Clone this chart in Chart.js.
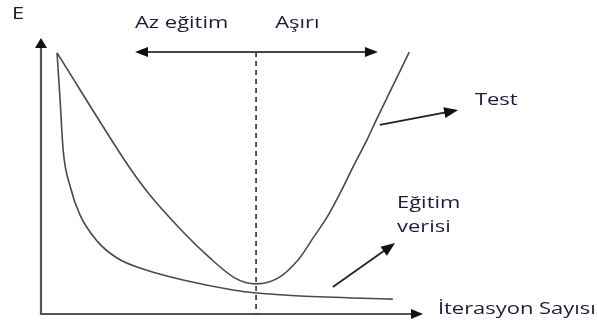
<!DOCTYPE html>
<html>
<head>
<meta charset="utf-8">
<script src="https://cdn.jsdelivr.net/npm/chart.js@4"></script>
<style>
  html, body { margin: 0; padding: 0; background: #fff; }
  #wrap { width: 597px; height: 320px; }
</style>
</head>
<body>
<div id="wrap"><canvas id="grafico"></canvas></div>
<script>
// egri noktalari (x: iterasyon, y: hata)
const testX = [4.2, 21.5, 28.5, 37.2, 44.2, 50.8, 56.3, 62.0, 67.3, 71.2, 74.9, 78.3, 81.7, 85.3, 88.0, 96.4];
const testY = [94.6, 56.5, 43.1, 29.7, 20.3, 13.0, 10.9, 13.0, 19.6, 27.5, 35.1, 43.8, 53.3, 63.0, 71.0, 94.9];
const egitimX = [4.2, 5.0, 5.8, 7.6, 10.2, 14.7, 19.9, 26.7, 37.2, 50.3, 56.5, 67.8, 92.1];
const egitimY = [94.6, 77.5, 59.4, 46.4, 35.9, 26.4, 20.3, 16.3, 12.3, 8.7, 7.6, 6.5, 5.4];
const optimumX = 56.3;

// etiketler ve oklar (veri koordinatlari)
const etiketler = [
  { text: 'E', x: -7.6, y: 108.7 },
  { text: 'Az eğitim', x: 24.6, y: 105.4 },
  { text: 'Aşırı', x: 61.3, y: 105.4 },
  { text: 'Test', x: 113.6, y: 77.5 },
  { text: 'Eğitim', x: 93.2, y: 40.2 },
  { text: 'verisi', x: 93.2, y: 31.5 },
  { text: 'İterasyon Sayısı', x: 103.9, y: 1.6 }
];
const oklar = [
  { from: [88.7, 68.5], to: [109.2, 73.9] },
  { from: [76.4, 9.8], to: [92.7, 25.7] }
];

const cizimler = {
  id: 'cizimler',
  afterDatasetsDraw(chart) {
    const { ctx, scales } = chart;
    const px = v => scales.x.getPixelForValue(v);
    const py = v => scales.y.getPixelForValue(v);

    const okBasi = (x1, y1, x2, y2, boy, en) => {
      const a = Math.atan2(y2 - y1, x2 - x1);
      ctx.beginPath();
      ctx.moveTo(x2, y2);
      ctx.lineTo(x2 - boy * Math.cos(a) + en * Math.sin(a), y2 - boy * Math.sin(a) - en * Math.cos(a));
      ctx.lineTo(x2 - boy * Math.cos(a) - en * Math.sin(a), y2 - boy * Math.sin(a) + en * Math.cos(a));
      ctx.closePath();
      ctx.fill();
    };

    ctx.save();
    // eksenler
    ctx.strokeStyle = '#555';
    ctx.fillStyle = '#111';
    ctx.lineWidth = 2.2;
    ctx.beginPath();
    ctx.moveTo(px(0), py(100) + 8);
    ctx.lineTo(px(0), py(0));
    ctx.lineTo(px(100) - 8, py(0));
    ctx.stroke();
    okBasi(px(0), py(50), px(0), py(100), 10, 6);
    okBasi(px(50), py(0), px(100), py(0), 12, 5);

    // optimum kesikli cizgi
    ctx.lineWidth = 1.5;
    ctx.strokeStyle = '#222';
    ctx.setLineDash([5, 4]);
    ctx.beginPath();
    ctx.moveTo(px(optimumX), py(94.9));
    ctx.lineTo(px(optimumX), py(0));
    ctx.stroke();
    ctx.setLineDash([]);

    // cift yonlu ok
    ctx.strokeStyle = '#444';
    ctx.lineWidth = 2;
    ctx.beginPath();
    ctx.moveTo(px(24.6) + 10, py(94.9));
    ctx.lineTo(px(88.2) - 10, py(94.9));
    ctx.stroke();
    okBasi(px(50), py(94.9), px(24.6), py(94.9), 13, 5);
    okBasi(px(50), py(94.9), px(88.2), py(94.9), 13, 5);

    // isaret oklari
    ctx.strokeStyle = '#222';
    ctx.lineWidth = 1.8;
    oklar.forEach(o => {
      const x1 = px(o.from[0]), y1 = py(o.from[1]);
      const x2 = px(o.to[0]), y2 = py(o.to[1]);
      const a = Math.atan2(y2 - y1, x2 - x1);
      ctx.beginPath();
      ctx.moveTo(x1, y1);
      ctx.lineTo(x2 - 10 * Math.cos(a), y2 - 10 * Math.sin(a));
      ctx.stroke();
      okBasi(x1, y1, x2, y2, 14, 5.5);
    });

    // yazilar (Calibri benzeri genis gorunum icin yatay olcek)
    ctx.fillStyle = '#1c1c3a';
    ctx.font = '17px "Open Sans", sans-serif';
    ctx.textBaseline = 'middle';
    ctx.textAlign = 'left';
    etiketler.forEach(e => {
      ctx.save();
      ctx.translate(px(e.x), py(e.y));
      ctx.scale(1.29, 1);
      ctx.fillText(e.text, 0, 0);
      ctx.restore();
    });
    ctx.restore();
  }
};

const toPoints = (xs, ys) => xs.map((x, i) => ({ x, y: ys[i] }));

new Chart(document.getElementById('grafico').getContext('2d'), {
  type: 'line',
  data: {
    datasets: [
      {
        label: 'Test',
        data: toPoints(testX, testY),
        borderColor: '#4a4a4a',
        borderWidth: 1.6,
        pointRadius: 0,
        tension: 0.3,
        fill: false
      },
      {
        label: 'Eğitim verisi',
        data: toPoints(egitimX, egitimY),
        borderColor: '#4a4a4a',
        borderWidth: 1.6,
        pointRadius: 0,
        cubicInterpolationMode: 'monotone',
        fill: false
      }
    ]
  },
  options: {
    responsive: true,
    maintainAspectRatio: false,
    animation: false,
    layout: { padding: { left: 41, right: 174, top: 38, bottom: 6 } },
    plugins: {
      legend: { display: false },
      tooltip: { enabled: false }
    },
    scales: {
      x: { type: 'linear', min: 0, max: 100, display: false },
      y: { type: 'linear', min: 0, max: 100, display: false }
    }
  },
  plugins: [cizimler]
});
</script>
</body>
</html>
